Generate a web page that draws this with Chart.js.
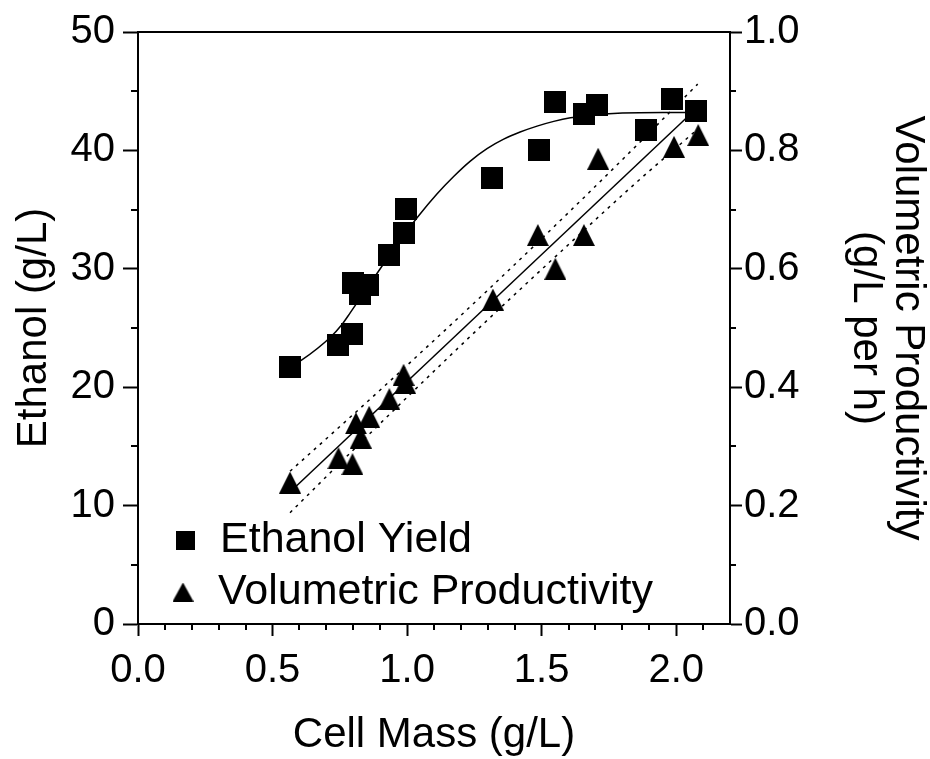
<!DOCTYPE html>
<html lang="en">
<head>
<meta charset="UTF-8">
<title>Ethanol and Volumetric Productivity vs Cell Mass</title>
<script src="https://cdn.jsdelivr.net/npm/chart.js"></script>
<style>
  html, body { margin: 0; padding: 0; background: #fff; }
  canvas { display: block; }
</style>
</head>
<body>
<canvas id="chart" width="930" height="759"></canvas>
<script>
const ethanolX = [0.565, 0.743, 0.795, 0.80, 0.826, 0.856, 0.934, 0.987, 0.997, 1.316, 1.489, 1.548, 1.657, 1.706, 1.889, 1.985, 2.075];
const ethanolY = [21.7, 23.6, 24.5, 28.8, 27.9, 28.6, 31.2, 33.05, 35.05, 37.7, 40.0, 44.1, 43.1, 43.8, 41.7, 44.3, 43.3];

const prodX = [0.565, 0.745, 0.797, 0.81, 0.828, 0.859, 0.934, 0.987, 0.993, 1.319, 1.486, 1.551, 1.657, 1.71, 1.992, 2.082];
const prodY = [0.239, 0.280, 0.270, 0.339, 0.315, 0.350, 0.380, 0.421, 0.407, 0.548, 0.657, 0.600, 0.657, 0.786, 0.806, 0.826];

// sigmoidal fit through the ethanol points (traced)
const fitX = [0.565, 0.609, 0.714, 0.758, 0.789, 0.888, 0.96, 1.04, 1.11, 1.173, 1.235, 1.297, 1.359, 1.42, 1.483, 1.545, 1.607, 1.7, 1.8, 1.95, 2.08];
const fitY = [21.7, 22.3, 24.2, 25.3, 26.3, 29.6, 32.0, 34.4, 36.3, 37.8, 39.1, 40.15, 40.95, 41.55, 42.05, 42.45, 42.75, 43.0, 43.15, 43.2, 43.2];

// linear fit of productivity and its 95% band (traced)
const linX = [0.565, 2.08];
const linY = [0.223, 0.873];
const bandX = [0.565, 0.8, 1.0, 1.3, 1.6, 1.85, 2.08];
const bandUpper = [0.258, 0.354, 0.437, 0.564, 0.695, 0.807, 0.912];
const bandLower = [0.188, 0.294, 0.383, 0.514, 0.641, 0.745, 0.836];

const xTitle = 'Cell Mass (g/L)';
const yTitle = 'Ethanol (g/L)';
const y2Title = ['Volumetric Productivity', '(g/L per h)'];

const FONT = '"Liberation Sans", Arial, sans-serif';
Chart.defaults.font.family = FONT;
Chart.defaults.color = '#000';

function pts(xs, ys) {
    return xs.map((x, i) => ({ x: x, y: ys[i] }));
}

function squareMarker(s) {
    const c = document.createElement('canvas');
    c.width = s; c.height = s;
    const g = c.getContext('2d');
    g.fillStyle = '#000';
    g.fillRect(0, 0, s, s);
    return c;
}

function triangleMarker(w, h) {
    const c = document.createElement('canvas');
    c.width = w; c.height = h;
    const g = c.getContext('2d');
    g.fillStyle = '#000';
    g.beginPath();
    g.moveTo(w / 2, 0);
    g.lineTo(w, h);
    g.lineTo(0, h);
    g.closePath();
    g.fill();
    return c;
}

const squareImg = squareMarker(22);
const triImg = triangleMarker(22, 22);
const legendSquare = squareMarker(19);
const legendTri = triangleMarker(21, 19);

function fitLine(data, axis, dash, smooth) {
    return {
        data: data,
        yAxisID: axis,
        showLine: true,
        pointRadius: 0,
        borderColor: '#000',
        borderWidth: 1.5,
        borderDash: dash,
        cubicInterpolationMode: smooth ? 'monotone' : 'default',
        tension: 0
    };
}

// short minor ticks + the legend in the bottom-left corner
const extras = {
    id: 'extras',
    afterDraw(chart) {
        const ctx = chart.ctx;
        const { x, y, y2 } = chart.scales;
        ctx.save();
        ctx.strokeStyle = '#000';
        ctx.lineWidth = 2;
        ctx.beginPath();
        for (let i = 1; i < 22; i++) {
            if (i % 5 === 0) continue;
            const px = Math.round(x.getPixelForValue(i / 10));
            ctx.moveTo(px, x.top);
            ctx.lineTo(px, x.top + 6);
        }
        for (let v = 5; v < 50; v += 10) {
            const py = Math.round(y.getPixelForValue(v));
            ctx.moveTo(y.right, py);
            ctx.lineTo(y.right - 7, py);
        }
        for (let v = 1; v < 10; v += 2) {
            const py = Math.round(y2.getPixelForValue(v / 10));
            ctx.moveTo(y2.left, py);
            ctx.lineTo(y2.left + 6, py);
        }
        ctx.stroke();

        const sets = chart.data.datasets;
        ctx.font = '43px ' + FONT;
        ctx.fillStyle = '#000';
        ctx.textBaseline = 'middle';
        ctx.textAlign = 'left';
        ctx.drawImage(legendSquare, 185 - 9.5, 540 - 9.5);
        ctx.fillText(sets[0].label, 220, 540);
        ctx.drawImage(legendTri, 183 - 10.5, 592 - 9.5);
        ctx.fillText(sets[1].label, 218, 592);
        ctx.restore();
    }
};

new Chart(document.getElementById('chart'), {
    type: 'scatter',
    data: {
        datasets: [
            {
                label: 'Ethanol Yield',
                data: pts(ethanolX, ethanolY),
                yAxisID: 'y',
                pointStyle: squareImg,
                pointRadius: 11,
                showLine: false
            },
            {
                label: 'Volumetric Productivity',
                data: pts(prodX, prodY),
                yAxisID: 'y2',
                pointStyle: triImg,
                pointRadius: 11,
                showLine: false
            },
            fitLine(pts(fitX, fitY), 'y', [], true),
            fitLine(pts(linX, linY), 'y2', [], false),
            fitLine(pts(bandX, bandUpper), 'y2', [3, 5], true),
            fitLine(pts(bandX, bandLower), 'y2', [3, 5], true)
        ]
    },
    options: {
        responsive: false,
        animation: false,
        devicePixelRatio: 1,
        layout: { padding: 0 },
        plugins: {
            legend: { display: false },
            tooltip: { enabled: false }
        },
        scales: {
            x: {
                type: 'linear',
                position: 'bottom',
                min: 0,
                max: 2.2,
                ticks: {
                    stepSize: 0.5,
                    includeBounds: false,
                    callback: v => v.toFixed(1),
                    font: { size: 40 },
                    padding: 11,
                    maxRotation: 0
                },
                grid: { drawOnChartArea: false, tickLength: 12, tickWidth: 2, tickColor: '#000' },
                border: { color: '#000', width: 2 },
                title: { display: true, text: xTitle, font: { size: 42, lineHeight: 1 }, padding: { top: 0, bottom: 3 } },
                afterFit: s => { s.height = 135; }
            },
            x2: {
                type: 'linear',
                position: 'top',
                min: 0,
                max: 2.2,
                ticks: { display: false },
                grid: { drawOnChartArea: false, drawTicks: false },
                border: { color: '#000', width: 2 },
                afterFit: s => { s.height = 32; }
            },
            y: {
                position: 'left',
                min: 0,
                max: 50,
                ticks: { stepSize: 10, font: { size: 40 }, padding: 8 },
                grid: { drawOnChartArea: false, tickLength: 15, tickWidth: 2, tickColor: '#000' },
                border: { color: '#000', width: 2 },
                title: { display: true, text: yTitle, font: { size: 42, lineHeight: 1 }, padding: { top: 13, bottom: 0 } },
                afterFit: s => { s.width = 138; }
            },
            y2: {
                position: 'right',
                min: 0,
                max: 1,
                ticks: { stepSize: 0.2, callback: v => v.toFixed(1), font: { size: 40 }, padding: 2 },
                grid: { drawOnChartArea: false, tickLength: 12, tickWidth: 2, tickColor: '#000' },
                border: { color: '#000', width: 2 },
                title: { display: true, text: y2Title, font: { size: 42, lineHeight: 1 }, padding: { top: 1, bottom: 0 } },
                afterFit: s => { s.width = 200; }
            }
        }
    },
    plugins: [extras]
});
</script>
</body>
</html>
